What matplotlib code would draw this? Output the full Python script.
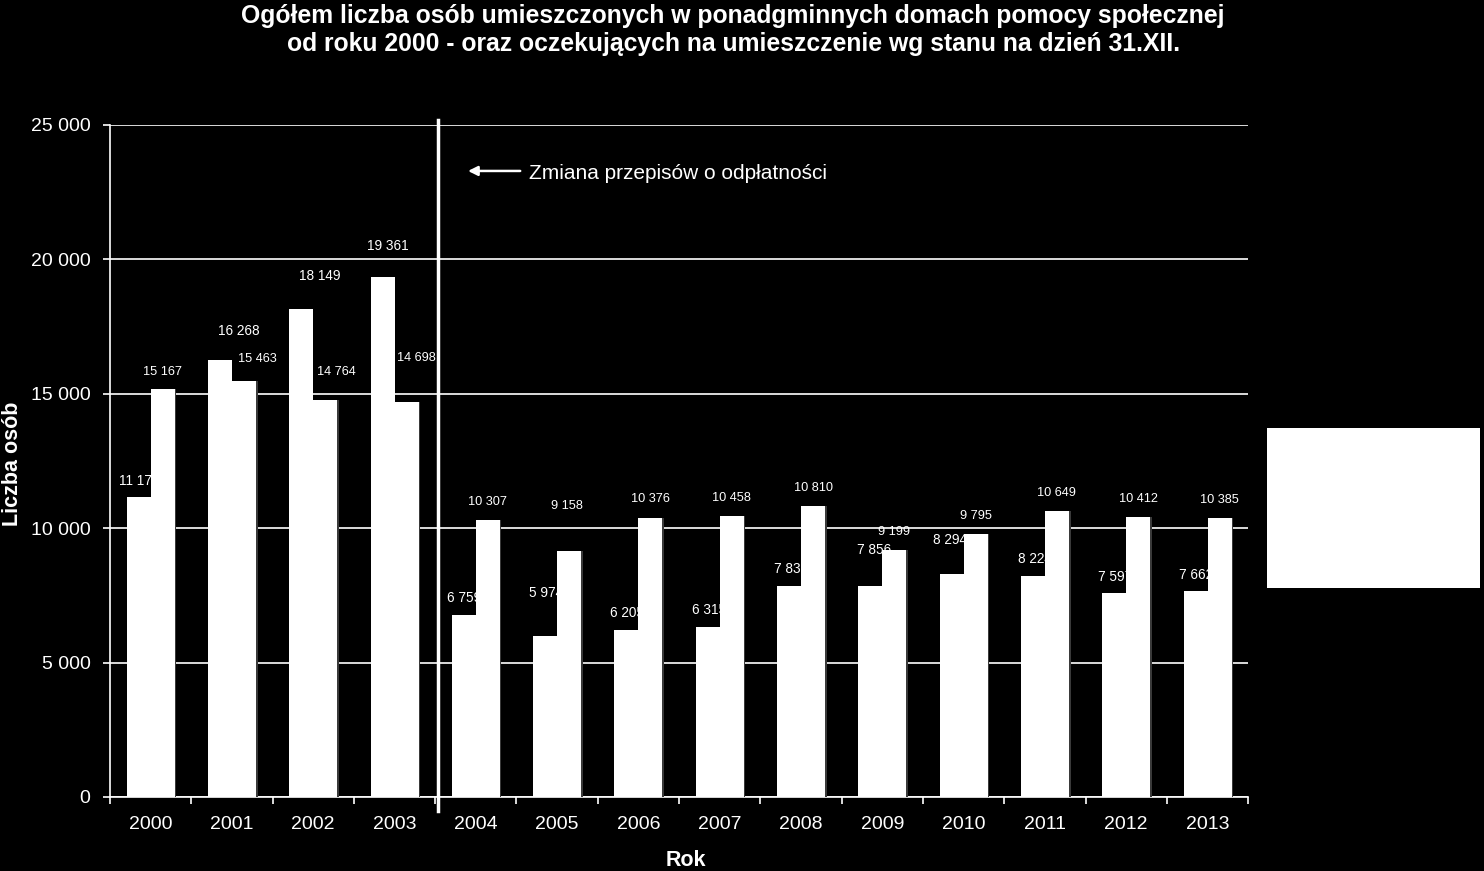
import numpy as np
import matplotlib
matplotlib.use("Agg")
import matplotlib.pyplot as plt
from matplotlib.patches import Rectangle

plt.rcParams['font.family'] = ['Liberation Sans', 'DejaVu Sans']

years = ["2000", "2001", "2002", "2003", "2004", "2005", "2006",
         "2007", "2008", "2009", "2010", "2011", "2012", "2013"]
umieszczeni = [11175, 16268, 18149, 19361, 6759, 5974, 6205,
               6315, 7837, 7856, 8294, 8224, 7597, 7662]
oczekujacy = [15167, 15463, 14764, 14698, 10307, 9158, 10376,
              10458, 10810, 9199, 9795, 10649, 10412, 10385]

# label offsets (pixels) from the top centre of each bar
off1 = [(1, 16), (19, 29), (19, 33), (5, 31), (0, 17), (1, 43), (1, 17),
        (1, 17), (2, 17), (4, 36), (-2, 34), (2, 17), (1, 16), (1, 16)]
off2 = [(0, 17), (13, 22), (11, 28), (10, 44), (0, 18), (-2, 45), (0, 19),
        (0, 18), (0, 18), (0, 18), (0, 18), (0, 18), (0, 18), (0, 18)]


def fmt(v):
    return f"{v:,}".replace(",", " ")


fig = plt.figure(figsize=(14.84, 8.71), dpi=100, facecolor='black')
ax = fig.add_axes([0.0741, 0.085, 0.767, 0.7715], facecolor='black')

x = np.arange(len(years))
w = 0.295
b1 = ax.bar(x - w / 2, umieszczeni, w, color='white', linewidth=0, zorder=2)
# thin dark glow on the right-hand bars, like the original shadow
b2_glow = ax.bar(x + w / 2 + 0.02, oczekujacy, w, color='#3a3a3a', linewidth=0, zorder=3.5)
b2 = ax.bar(x + w / 2, oczekujacy, w, color='white', linewidth=0, zorder=4)

for i, v in enumerate(umieszczeni):
    ax.annotate(fmt(v), (x[i] - w / 2, v), xytext=off1[i], textcoords='offset pixels',
                ha='center', va='center', color='white', fontsize=9.8, zorder=3)
for i, v in enumerate(oczekujacy):
    ax.annotate(fmt(v), (x[i] + w / 2, v), xytext=off2[i], textcoords='offset pixels',
                ha='center', va='center', color='white', fontsize=9.2, zorder=5)

ax.set_xlim(-0.5, len(years) - 0.5)
ax.set_ylim(0, 25000)
ax.set_yticks(np.arange(0, 25001, 5000))
ax.set_yticklabels([fmt(v) for v in range(0, 25001, 5000)])
ax.yaxis.grid(True, color='white', linewidth=1.2)
ax.set_axisbelow(True)

ax.set_xticks(np.arange(-0.5, len(years)), minor=False)
ax.set_xticklabels([])
ax.set_xticks(x, minor=True)
ax.set_xticklabels(years, minor=True)
ax.tick_params(axis='x', which='major', direction='out', length=5, color='white', width=1.2)
ax.tick_params(axis='x', which='minor', length=0, pad=14, labelsize=14, labelcolor='white')
ax.tick_params(axis='y', direction='out', length=5, color='white', width=1.2,
               labelsize=14, labelcolor='white', pad=9)

for s in ['top', 'right']:
    ax.spines[s].set_visible(False)
for s in ['left', 'bottom']:
    ax.spines[s].set_color('white')
    ax.spines[s].set_linewidth(1.2)

# separator between 2003 and 2004
ax.plot([3.535, 3.535], [25190, -520], color='white', linewidth=2.5,
        clip_on=False, zorder=6)
ax.annotate("", xy=(3.87, 23290), xytext=(4.58, 23290),
            arrowprops=dict(arrowstyle='-|>', color='white', lw=1.8,
                            mutation_scale=14))
ax.text(4.66, 23200, "Zmiana przepisów o odpłatności", color='white',
        fontsize=15, va='center', ha='left')

fig.text(0.494, 0.982, "Ogółem liczba osób umieszczonych w ponadgminnych domach pomocy społecznej",
         color='white', fontsize=17.8, fontweight='bold', ha='center', va='center')
fig.text(0.494, 0.949, "od roku 2000 - oraz oczekujących na umieszczenie wg stanu na dzień 31.XII.",
         color='white', fontsize=17.8, fontweight='bold', ha='center', va='center')
fig.text(0.0085, 0.468, "Liczba osób", color='white', fontsize=15.5, fontweight='bold',
         rotation=90, ha='center', va='center')
fig.text(0.4623, 0.0125, "Rok", color='white', fontsize=15.5, fontweight='bold',
         ha='center', va='center')

fig.patches.append(Rectangle((1267 / 1484, 1 - 588 / 871), 213 / 1484, 160 / 871,
                             transform=fig.transFigure, facecolor='white',
                             edgecolor='none'))

fig.savefig("out.png", dpi=100, facecolor='black')
